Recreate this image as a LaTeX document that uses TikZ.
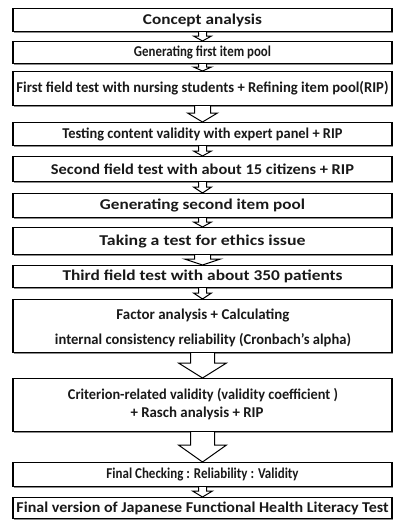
\documentclass[tikz,border=0pt]{standalone}
\usepackage{fontspec}
\setmainfont{Carlito}
\usetikzlibrary{calc,shadows}
\tikzset{
  stepbox/.style={draw=black, line width=1.2pt, fill=white, minimum width=379pt, inner sep=0pt, anchor=north,
    font=\fontsize{15}{18}\selectfont\bfseries, text=black!90,
    drop shadow={shadow xshift=1.3pt, shadow yshift=-1.3pt, fill=black!45, opacity=1}},
  lbl/.style={inner sep=0pt, font=\fontsize{15}{18}\selectfont\bfseries, text=black!90},
  blk/.style={draw=black, line width=1pt, fill=white, line join=miter},
}
\newcommand\fitt[2]{\resizebox{#1pt}{\height}{#2}}
\newcommand\barrow[5]{\draw[blk] let \p1=(#1.south), \p2=(#2.north) in
  (\x1-#3pt,\y1) -- (\x1-#3pt,\y2+#5pt) -- (\x1-#4pt,\y2+#5pt) -- (\x1,\y2) -- (\x1+#4pt,\y2+#5pt) -- (\x1+#3pt,\y2+#5pt) -- (\x1+#3pt,\y1);}
\begin{document}
\begin{tikzpicture}[x=1pt,y=-1pt]
\useasboundingbox (0,0) rectangle (394,520);
\fill[white] (0,0) rectangle (394,520);
\node[stepbox, minimum height=23pt] (b1) at (202.5,8) {\fitt{119}{Concept analysis}};
\node[stepbox, minimum height=22pt] (b2) at (202.5,41) {\fitt{137}{Generating first item pool}};
\node[stepbox, minimum height=34pt] (b3) at (202.5,71) {\fitt{372}{First field test with nursing students + Refining item pool(RIP)}};
\node[stepbox, minimum height=23pt] (b4) at (202.5,122) {\fitt{280}{Testing content validity with expert panel + RIP}};
\node[stepbox, minimum height=25pt] (b5) at (202.5,156) {\fitt{303}{Second field test with about 15 citizens + RIP}};
\node[stepbox, minimum height=24pt] (b6) at (202.5,193) {\fitt{205}{Generating second item pool}};
\node[stepbox, minimum height=27pt] (b7) at (202.5,227) {\fitt{206}{Taking a test for ethics issue}};
\node[stepbox, minimum height=22pt] (b8) at (202.5,265) {\fitt{280}{Third field test with about 350 patients}};
\node[stepbox, minimum height=53pt] (b9) at (202.5,299) {};
\node[lbl] (t9a) at (203,315) {\fitt{173}{Factor analysis + Calculating}};
\node[lbl] (t9b) at (203,340) {\fitt{296}{internal consistency reliability (Cronbach’s alpha)}};
\node[stepbox, minimum height=53pt] (b10) at (202.5,378) {};
\node[lbl] (t10a) at (203,395) {\fitt{270}{Criterion-related validity (validity coefficient )}};
\node[lbl] (t10b) at (197,413) {\fitt{133}{+ Rasch analysis + RIP}};
\node[stepbox, minimum height=24pt] (b11) at (202.5,462) {\fitt{192}{Final Checking : Reliability : Validity}};
\node[stepbox, minimum height=21pt] (b12) at (202.5,497) {\fitt{372}{Final version of Japanese Functional Health Literacy Test}};
\barrow{b1}{b2}{4}{9}{5}
\barrow{b2}{b3}{4}{9}{4}
\barrow{b3}{b4}{8}{15}{9}
\barrow{b4}{b5}{4}{9}{5}
\barrow{b5}{b6}{4}{9}{6}
\barrow{b6}{b7}{4}{9}{5}
\barrow{b7}{b8}{8}{18}{6}
\barrow{b8}{b9}{4}{9}{6}
\barrow{b9}{b10}{12}{24}{15}
\barrow{b10}{b11}{12}{24}{17}
\barrow{b11}{b12}{4}{10}{6}
\end{tikzpicture}
\end{document}
